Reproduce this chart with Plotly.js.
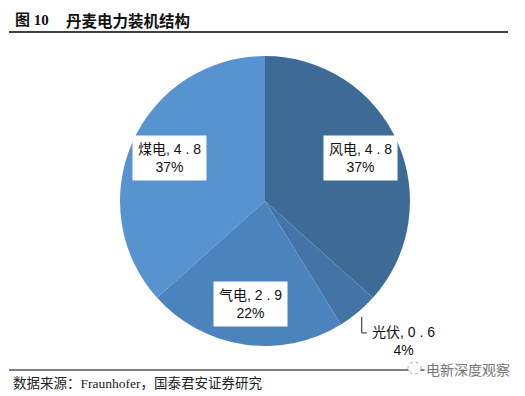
<!DOCTYPE html>
<html>
<head>
<meta charset="utf-8">
<script src="https://cdn.plot.ly/plotly-3.0.1.min.js"></script>
<style>html,body{margin:0;padding:0;background:#fff;}#chart{width:525px;height:396px;}</style>
</head>
<body>
<div id="chart"></div>
<script>
// Data
const categories = ['风电', '光伏', '气电', '煤电'];
const values = [4.8, 0.6, 2.9, 4.8];
const valueLabels = ['4 . 8', '0 . 6', '2 . 9', '4 . 8'];
const percentLabels = ['37%', '4%', '22%', '37%'];
const colors = ['#3E6B96', '#4474A7', '#4B83BD', '#5693CF'];

const W = 525, H = 396;
const cx = 265, cy = 201, R = 145;

const cjk = '"Liberation Sans", "Noto Sans CJK SC", sans-serif';

const trace = {
  type: 'pie',
  labels: categories,
  values: values,
  sort: false,
  direction: 'clockwise',
  rotation: 0,
  marker: {colors: colors, line: {width: 0}},
  textinfo: 'none',
  hoverinfo: 'none',
  showlegend: false,
  domain: {x: [(cx - R) / W, (cx + R) / W], y: [1 - (cy + R) / H, 1 - (cy - R) / H]}
};

// Label positions derived from the slice angles
const total = values.reduce((a, b) => a + b, 0);
let cum = 0;
const annotations = [];
const shapes = [];
const px = x => x / W;
const py = y => 1 - y / H;
values.forEach((v, i) => {
  const a0 = cum / total * 2 * Math.PI;
  cum += v;
  const a1 = cum / total * 2 * Math.PI;
  const mid = (a0 + a1) / 2;
  const frac = v / total;
  const text = categories[i] + ', ' + valueLabels[i] + '<br>' + percentLabels[i];
  if (frac > 0.1) {
    const r = 0.72 * R;
    const x = cx + r * Math.sin(mid), y = cy - r * Math.cos(mid);
    annotations.push({
      x: px(x), y: py(y), xref: 'paper', yref: 'paper', showarrow: false,
      xanchor: 'center', yanchor: 'middle',
      text: text, align: 'center', bgcolor: '#ffffff', borderpad: 5,
      font: {family: cjk, size: 14, color: '#111'}
    });
  } else {
    // outside label with leader line
    const ex = cx + (R + 6) * Math.sin(mid), ey = cy - (R + 6) * Math.cos(mid);
    const ly = ey + 16;
    shapes.push({type: 'path', xref: 'paper', yref: 'paper',
      path: `M ${px(ex)} ${py(ey)} L ${px(ex)} ${py(ly)} L ${px(ex + 5)} ${py(ly)}`,
      line: {color: '#222', width: 1}});
    annotations.push({
      x: px(ex + 8), y: py(ly + 8), xref: 'paper', yref: 'paper', showarrow: false,
      xanchor: 'left', yanchor: 'middle',
      text: text, align: 'center',
      font: {family: cjk, size: 14, color: '#111'}
    });
  }
});

// Title, source and watermark
annotations.push({x: px(13), y: py(20), xref: 'paper', yref: 'paper', showarrow: false,
  xanchor: 'left', yanchor: 'middle',
  text: '<b>图 10</b>', font: {family: '"Liberation Serif", "Noto Sans CJK SC", serif', size: 15, color: '#111'}});
annotations.push({x: px(64), y: py(20), xref: 'paper', yref: 'paper', showarrow: false,
  xanchor: 'left', yanchor: 'middle',
  text: '<b>丹麦电力装机结构</b>', font: {family: '"Noto Sans CJK SC", sans-serif', size: 15.5, color: '#111'}});
annotations.push({x: px(11), y: py(383), xref: 'paper', yref: 'paper', showarrow: false,
  xanchor: 'left', yanchor: 'middle',
  text: '数据来源：Fraunhofer，国泰君安证券研究', font: {family: '"Liberation Serif", "Noto Sans CJK SC", serif', size: 13.5, color: '#222'}});
annotations.push({x: px(424), y: py(369), xref: 'paper', yref: 'paper', showarrow: false,
  xanchor: 'left', yanchor: 'middle', bgcolor: 'rgba(255,255,255,0.85)',
  text: '电新深度观察', font: {family: '"Noto Sans CJK SC", sans-serif', size: 14, color: '#777'}});
shapes.push({type: 'line', xref: 'paper', yref: 'paper', x0: px(9), x1: px(508), y0: py(32), y1: py(32), line: {color: '#000', width: 1.5}});
shapes.push({type: 'line', xref: 'paper', yref: 'paper', x0: px(9), x1: px(508), y0: py(370), y1: py(370), line: {color: '#000', width: 1}});
shapes.push({type: 'circle', xref: 'paper', yref: 'paper', x0: px(408), x1: px(421), y0: py(362), y1: py(374), fillcolor: '#fff', line: {color: '#aaa', width: 1, dash: 'dot'}});

const layout = {
  width: W, height: H,
  margin: {l: 0, r: 0, t: 0, b: 0},
  paper_bgcolor: '#ffffff',
  showlegend: false,
  annotations: annotations,
  shapes: shapes
};

Plotly.newPlot('chart', [trace], layout, {displayModeBar: false, staticPlot: true});
</script>
</body>
</html>
